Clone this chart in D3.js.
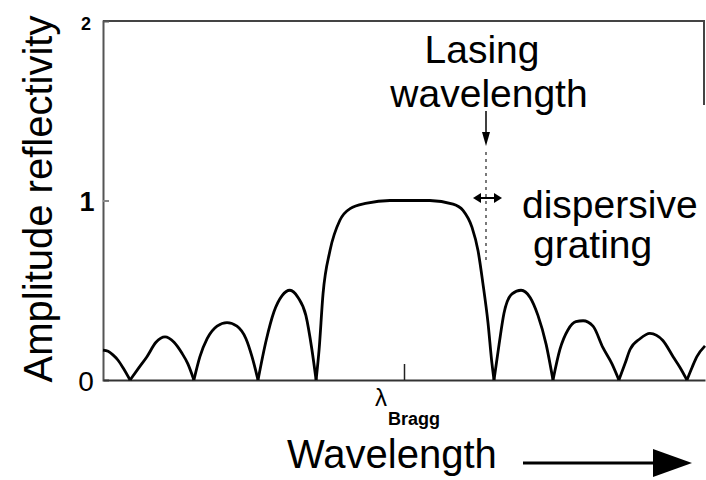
<!DOCTYPE html>
<html>
<head>
<meta charset="utf-8">
<script src="https://cdn.jsdelivr.net/npm/d3@7/dist/d3.min.js"></script>
<style>
  html, body { margin: 0; padding: 0; background: #fff; }
  svg { display: block; }
  text { font-family: "Liberation Sans", Arial, Helvetica, sans-serif; fill: #000; }
</style>
</head>
<body>
<svg id="chart" width="706" height="480"></svg>
<script>
// Detuning from the Bragg wavelength (arbitrary units) and amplitude reflectivity
const detuning = [
  -10.0, -9.83, -9.67, -9.50, -9.34, -9.10,
  -8.80, -8.54, -8.24, -7.94, -7.64, -7.38, -7.18, -6.98,
  -6.78, -6.54, -6.21, -5.88, -5.55, -5.25, -5.05, -4.85,
  -4.58, -4.32, -4.05, -3.79, -3.52, -3.26, -3.06, -2.92,
  -2.82, -2.69, -2.46, -2.13, -1.79, -1.23, -0.47, 0, 0.86, 1.63, 1.96, 2.26, 2.46, 2.62, 2.79, 2.92, 2.99,
  3.16, 3.32, 3.59, 3.89, 4.19, 4.45, 4.72, 4.95,
  5.18, 5.45, 5.71, 5.95, 6.28, 6.61, 6.91, 7.14,
  7.34, 7.51, 7.84, 8.17, 8.60, 8.94, 9.17, 9.40,
  9.57, 9.73, 10.0
];
const reflectivity = [
  0.167, 0.16, 0.14, 0.11, 0.07, 0,
  0.07, 0.13, 0.21, 0.24, 0.21, 0.15, 0.09, 0,
  0.13, 0.23, 0.30, 0.32, 0.30, 0.23, 0.13, 0,
  0.22, 0.38, 0.47, 0.50, 0.46, 0.36, 0.17, 0,
  0.17, 0.48, 0.72, 0.89, 0.955, 0.985, 1.0, 1.0, 1.0, 0.98, 0.945, 0.85, 0.72, 0.54, 0.32, 0.095, 0,
  0.20, 0.37, 0.48, 0.50, 0.46, 0.36, 0.20, 0,
  0.17, 0.28, 0.325, 0.33, 0.30, 0.18, 0.09, 0,
  0.09, 0.17, 0.23, 0.26, 0.22, 0.13, 0.07, 0,
  0.07, 0.13, 0.19
];
const yTicks = [0, 1, 2];
const yTickLabels = ["0", "1", "2"];
const xTicks = [0];

const svg = d3.select("#chart");
const x = d3.scaleLinear().domain([-10, 10]).range([103, 705]);
const y = d3.scaleLinear().domain([0, 2]).range([380, 21]);

// split curve into lobes between nulls
const pts = detuning.map((d, i) => [d, reflectivity[i]]);
const segments = [];
let cur = [];
pts.forEach((p, i) => {
  cur.push(p);
  if (p[1] === 0 && i > 0 && i < pts.length - 1) {
    segments.push(cur);
    cur = [p];
  }
});
if (cur.length) segments.push(cur);

// frame
svg.append("line").attr("x1", x(-10)).attr("x2", x(10)).attr("y1", y(2)).attr("y2", y(2))
  .attr("stroke", "#444").attr("stroke-width", 2);
svg.append("line").attr("x1", x(10) - 1).attr("x2", x(10) - 1).attr("y1", y(2)).attr("y2", 105)
  .attr("stroke", "#444").attr("stroke-width", 2);

// axes
const yAxis = d3.axisLeft(y).tickValues([1]).tickSize(-6).tickFormat("");
const gy = svg.append("g").attr("transform", `translate(${x(-10)},0)`).call(yAxis);
gy.select(".domain").attr("stroke", "#555").attr("stroke-width", 2);
gy.selectAll(".tick line").attr("stroke", "#888").attr("stroke-width", 2);

const xAxis = d3.axisBottom(x).tickValues(xTicks).tickSize(-16).tickFormat("").tickSizeOuter(0);
const gx = svg.append("g").attr("transform", `translate(0,${y(0)})`).call(xAxis);
gx.select(".domain").attr("stroke", "#333").attr("stroke-width", 2);
gx.selectAll(".tick line").attr("stroke", "#222").attr("stroke-width", 1.5);

// y tick labels (scanned original shows uneven label sizes)
const labelSize = [28, 27, 18];
const labelWeight = ["normal", "bold", "bold"];
const labelDy = [11, 10, 9];
svg.selectAll("text.ytl").data(yTicks).enter().append("text")
  .attr("class", "ytl")
  .attr("x", (d, i) => i === 1 ? 87 : 86)
  .attr("y", (d, i) => y(d) + labelDy[i])
  .attr("text-anchor", "middle")
  .attr("font-size", (d, i) => labelSize[i])
  .attr("font-weight", (d, i) => labelWeight[i])
  .text((d, i) => yTickLabels[i]);

// curve
const line = d3.line().x(d => x(d[0])).y(d => y(d[1])).curve(d3.curveMonotoneX);
svg.selectAll("path.lobe").data(segments).enter().append("path")
  .attr("class", "lobe")
  .attr("d", line)
  .attr("fill", "none")
  .attr("stroke", "#000")
  .attr("stroke-width", 2.8)
  .attr("stroke-linejoin", "miter");

// lambda Bragg label
svg.append("text").attr("x", x(0) - 29).attr("y", 406).attr("font-size", 24)
  .attr("font-family", "DejaVu Sans").text("λ");
svg.append("text").attr("x", x(0) - 16).attr("y", 425).attr("font-size", 18)
  .attr("font-weight", "bold").text("Bragg");

// y label
svg.append("text")
  .attr("transform", "translate(52,199) rotate(-90)")
  .attr("text-anchor", "middle")
  .attr("font-size", 40)
  .text("Amplitude reflectivity");

// x label + arrow
svg.append("text").attr("x", 287).attr("y", 468).attr("font-size", 40).text("Wavelength");
svg.append("line").attr("x1", 523).attr("x2", 656).attr("y1", 463).attr("y2", 463)
  .attr("stroke", "#000").attr("stroke-width", 3);
svg.append("path").attr("d", "M653,449 L692,463 L653,477 Z").attr("fill", "#000");

// lasing wavelength annotation
const lx = 486;
svg.append("text").attr("x", 482).attr("y", 63).attr("text-anchor", "middle").attr("font-size", 39).text("Lasing");
svg.append("text").attr("x", 489).attr("y", 107).attr("text-anchor", "middle").attr("font-size", 39).text("wavelength");
svg.append("line").attr("x1", lx).attr("x2", lx).attr("y1", 111).attr("y2", 136)
  .attr("stroke", "#000").attr("stroke-width", 1.5);
svg.append("path").attr("d", `M${lx - 4},132 L${lx},146 L${lx + 4},132 Z`).attr("fill", "#000");
svg.append("line").attr("x1", lx).attr("x2", lx).attr("y1", 152).attr("y2", 262)
  .attr("stroke", "#333").attr("stroke-width", 1.3).attr("stroke-dasharray", "3,4");

// double arrow (dispersive grating)
svg.append("line").attr("x1", 478).attr("x2", 497).attr("y1", 198).attr("y2", 198)
  .attr("stroke", "#000").attr("stroke-width", 2);
svg.append("path").attr("d", "M473,198 L481,193 L481,203 Z").attr("fill", "#000");
svg.append("path").attr("d", "M502,198 L494,193 L494,203 Z").attr("fill", "#000");
svg.append("text").attr("x", 522).attr("y", 218).attr("font-size", 39).text("dispersive");
svg.append("text").attr("x", 533).attr("y", 258).attr("font-size", 39).text("grating");
</script>
</body>
</html>
